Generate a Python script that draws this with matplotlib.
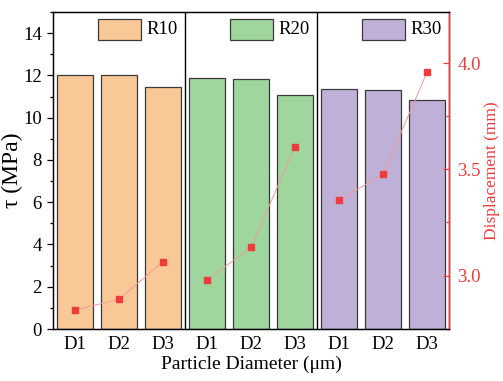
import matplotlib
matplotlib.use("Agg")
import matplotlib.pyplot as plt
from matplotlib.patches import Rectangle
from matplotlib.ticker import MultipleLocator, FormatStrFormatter

plt.rcParams['font.family'] = ['Liberation Serif', 'DejaVu Serif']

groups = ['R10', 'R20', 'R30']
sizes = ['D1', 'D2', 'D3']
tau = [12.03, 12.0, 11.43,
       11.88, 11.83, 11.08,
       11.36, 11.30, 10.85]
disp = [2.837, 2.888, 3.065,
        2.977, 3.133, 3.607,
        3.356, 3.477, 3.957]
colors = ['#F9C897', '#9FD69E', '#BFB0D7']
red = '#EE3B3B'

fig = plt.figure(figsize=(5.03, 3.81), dpi=100)
ax = fig.add_axes([53/503, 52/381, 396/503, 317/381])

x = list(range(len(tau)))
bar_colors = [colors[i // 3] for i in x]
ax.bar(x, tau, width=0.8, color=bar_colors, edgecolor='#3a3a3a', linewidth=0.9, zorder=2)

for b in [2.5, 5.5]:
    ax.axvline(b, color='black', linewidth=1.0, zorder=3)

ax.set_xlim(-0.5, 8.5)
ax.set_ylim(0, 15)
ax.set_xticks(x)
ax.set_xticklabels(sizes * 3, fontsize=13.5)
ax.tick_params(axis='x', length=0, pad=5)
ax.yaxis.set_major_locator(MultipleLocator(2))
ax.yaxis.set_minor_locator(MultipleLocator(1))
ax.tick_params(axis='y', which='major', length=4.5, width=0.9, labelsize=13.5, direction='out')
ax.tick_params(axis='y', which='minor', length=2.5, width=0.9, direction='out')
ax.set_ylabel('τ (MPa)', fontsize=17, labelpad=0)
ax.set_xlabel('Particle Diameter (μm)', fontsize=14, labelpad=2)
for s in ax.spines.values():
    s.set_linewidth(1.0)

# group legend keys
for g, name in enumerate(groups):
    ax.add_patch(Rectangle((3*g + 0.52, 13.68), 0.98, 0.99, facecolor=colors[g],
                           edgecolor='#3a3a3a', linewidth=0.9, zorder=4))
    ax.text(3*g + 1.63, 14.17, name, fontsize=13.5, va='center', ha='left', zorder=4)

ax2 = ax.twinx()
for g in range(len(groups)):
    ax2.plot(x[3*g:3*g+3], disp[3*g:3*g+3], color='#F29A9A', linewidth=0.7,
             marker='s', markersize=4.6, markerfacecolor=red, markeredgecolor=red, zorder=5)
ax2.set_ylim(2.748, 4.242)
ax2.yaxis.set_major_locator(MultipleLocator(0.5))
ax2.yaxis.set_minor_locator(MultipleLocator(0.25))
ax2.tick_params(axis='y', which='major', colors=red, length=4, width=0.9, labelsize=13.5, direction='in', pad=6)
ax2.tick_params(axis='y', which='minor', colors=red, length=2.5, width=0.9, direction='in')
ax2.yaxis.set_major_formatter(FormatStrFormatter('%.1f'))
ax2.set_ylabel('Displacement (mm)', color=red, fontsize=12.5, labelpad=2)
ax2.spines['right'].set_color(red)
ax2.spines['right'].set_linewidth(1.0)

fig.savefig('out.png', dpi=100)
